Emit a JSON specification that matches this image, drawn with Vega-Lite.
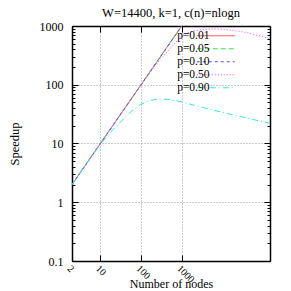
{
  "$schema": "https://vega.github.io/schema/vega-lite/v6.json",
  "width": 198,
  "height": 235,
  "autosize": {"type": "none"},
  "padding": {"left": 72, "top": 26, "right": 21, "bottom": 30},
  "background": "white",
  "title": {"text": "W=14400, k=1, c(n)=nlogn", "font": "Liberation Serif", "fontSize": 12.5, "fontWeight": "normal", "color": "black", "anchor": "middle", "offset": -14},
  "data": {"values": [
    {"p": "p=0.01", "n": 2, "s": 2}, {"p": "p=0.01", "n": 10, "s": 10}, {"p": "p=0.01", "n": 100, "s": 100}, {"p": "p=0.01", "n": 1000, "s": 999}, {"p": "p=0.01", "n": 2000, "s": 1996},
    {"p": "p=0.05", "n": 2, "s": 2}, {"p": "p=0.05", "n": 10, "s": 10}, {"p": "p=0.05", "n": 100, "s": 99.9}, {"p": "p=0.05", "n": 1000, "s": 996}, {"p": "p=0.05", "n": 2000, "s": 1985},
    {"p": "p=0.10", "n": 2, "s": 2}, {"p": "p=0.10", "n": 10, "s": 10}, {"p": "p=0.10", "n": 100, "s": 99.7}, {"p": "p=0.10", "n": 1000, "s": 990}, {"p": "p=0.10", "n": 2000, "s": 1960},
    {"p": "p=0.50", "n": 2, "s": 2}, {"p": "p=0.50", "n": 10, "s": 10}, {"p": "p=0.50", "n": 30, "s": 29.9}, {"p": "p=0.50", "n": 50, "s": 49.7}, {"p": "p=0.50", "n": 100, "s": 98.5}, {"p": "p=0.50", "n": 200, "s": 190}, {"p": "p=0.50", "n": 300, "s": 272}, {"p": "p=0.50", "n": 500, "s": 400}, {"p": "p=0.50", "n": 700, "s": 520}, {"p": "p=0.50", "n": 1000, "s": 670}, {"p": "p=0.50", "n": 1450, "s": 770}, {"p": "p=0.50", "n": 2000, "s": 820}, {"p": "p=0.50", "n": 3000, "s": 860}, {"p": "p=0.50", "n": 4260, "s": 880}, {"p": "p=0.50", "n": 6000, "s": 890}, {"p": "p=0.50", "n": 8000, "s": 889}, {"p": "p=0.50", "n": 11000, "s": 875}, {"p": "p=0.50", "n": 15300, "s": 855}, {"p": "p=0.50", "n": 22000, "s": 828}, {"p": "p=0.50", "n": 30000, "s": 800}, {"p": "p=0.50", "n": 36000, "s": 782}, {"p": "p=0.50", "n": 47800, "s": 750}, {"p": "p=0.50", "n": 80000, "s": 688}, {"p": "p=0.50", "n": 150000, "s": 605},
    {"p": "p=0.90", "n": 2, "s": 2}, {"p": "p=0.90", "n": 5, "s": 4.95}, {"p": "p=0.90", "n": 10, "s": 9.7}, {"p": "p=0.90", "n": 15, "s": 13.5}, {"p": "p=0.90", "n": 20, "s": 17}, {"p": "p=0.90", "n": 30, "s": 22.5}, {"p": "p=0.90", "n": 45, "s": 30}, {"p": "p=0.90", "n": 60, "s": 36}, {"p": "p=0.90", "n": 80, "s": 42}, {"p": "p=0.90", "n": 100, "s": 46.5}, {"p": "p=0.90", "n": 150, "s": 53}, {"p": "p=0.90", "n": 200, "s": 55.5}, {"p": "p=0.90", "n": 300, "s": 57}, {"p": "p=0.90", "n": 450, "s": 56.5}, {"p": "p=0.90", "n": 700, "s": 54}, {"p": "p=0.90", "n": 1000, "s": 51}, {"p": "p=0.90", "n": 2000, "s": 45}, {"p": "p=0.90", "n": 5000, "s": 38.3}, {"p": "p=0.90", "n": 10000, "s": 34}, {"p": "p=0.90", "n": 20000, "s": 30.4}, {"p": "p=0.90", "n": 50000, "s": 26.2}, {"p": "p=0.90", "n": 100000, "s": 23.5}, {"p": "p=0.90", "n": 150000, "s": 22.2}
  ]},
  "layer": [
    {
      "mark": {"type": "line", "clip": true, "strokeWidth": 1},
      "encoding": {
        "x": {"field": "n", "type": "quantitative", "scale": {"type": "log", "domain": [2, 150000], "nice": false},
          "axis": {"orient": "bottom", "values": [2, 10, 100, 1000], "title": "Number of nodes", "titleFontSize": 12, "labelExpr": "toString(datum.value)", "labelAngle": 45, "labelAlign": "left", "labelBaseline": "top", "labelPadding": 8, "labelFontSize": 10, "tickSize": -6, "grid": true, "titlePadding": -5.5, "labelOverlap": false, "labelFlush": false}},
        "y": {"field": "s", "type": "quantitative", "scale": {"type": "log", "domain": [0.1, 1000], "nice": false},
          "axis": {"orient": "left", "values": [0.1, 0.2, 0.3, 0.4, 0.5, 0.6, 0.7, 0.8, 0.9, 1, 2, 3, 4, 5, 6, 7, 8, 9, 10, 20, 30, 40, 50, 60, 70, 80, 90, 100, 200, 300, 400, 500, 600, 700, 800, 900, 1000], "title": "Speedup", "titlePadding": 18, "labelExpr": "indexof([0.1, 1, 10, 100, 1000], datum.value) >= 0 ? toString(datum.value) : ''", "labelPadding": 15, "labelFontSize": 12, "tickSize": {"condition": {"test": "indexof([0.1, 1, 10, 100, 1000], datum.value) >= 0", "value": -6}, "value": -3}, "grid": true, "gridOpacity": {"condition": {"test": "indexof([0.1, 1, 10, 100, 1000], datum.value) >= 0", "value": 1}, "value": 0}, "labelOverlap": false, "labelFlush": false}},
        "color": {"field": "p", "type": "nominal",
          "scale": {"domain": ["p=0.01", "p=0.05", "p=0.10", "p=0.50", "p=0.90"], "range": ["#ff4a4a", "#3ee03e", "#5050ff", "#ff40ff", "#30e6e6"]},
          "legend": {"title": null, "orient": "none", "legendX": 104, "legendY": 4, "symbolType": "M-4.75,0H4.75", "symbolSize": 64, "symbolStrokeWidth": 1, "symbolOffset": 34, "labelOffset": -12, "labelAlign": "right", "labelFontSize": 11.5, "labelColor": "black", "rowPadding": 0, "padding": 0}},
        "strokeDash": {"field": "p", "type": "nominal",
          "scale": {"domain": ["p=0.01", "p=0.05", "p=0.10", "p=0.50", "p=0.90"], "range": [[1, 0], [5, 3], [3, 3], [1, 2], [6, 3, 1, 3]]},
          "legend": {"title": null, "orient": "none", "legendX": 104, "legendY": 4, "symbolType": "M-4.75,0H4.75", "symbolSize": 64, "symbolStrokeWidth": 1, "symbolOffset": 34, "labelOffset": -12, "labelAlign": "right", "labelFontSize": 11.5, "labelColor": "black", "rowPadding": 0, "padding": 0}}
      }
    },
    {
      "mark": {"type": "point", "opacity": 0},
      "encoding": {
        "x": {"field": "n", "type": "quantitative", "scale": {"type": "log", "domain": [2, 150000], "nice": false},
          "axis": {"orient": "top", "values": [2, 10, 100, 1000], "labels": false, "title": null, "grid": false, "tickSize": -6}},
        "y": {"field": "s", "type": "quantitative", "scale": {"type": "log", "domain": [0.1, 1000], "nice": false},
          "axis": {"orient": "right", "values": [0.1, 0.2, 0.3, 0.4, 0.5, 0.6, 0.7, 0.8, 0.9, 1, 2, 3, 4, 5, 6, 7, 8, 9, 10, 20, 30, 40, 50, 60, 70, 80, 90, 100, 200, 300, 400, 500, 600, 700, 800, 900, 1000], "labels": false, "title": null, "grid": false, "tickSize": {"condition": {"test": "indexof([0.1, 1, 10, 100, 1000], datum.value) >= 0", "value": -6}, "value": -3}}}
      }
    }
  ],
  "resolve": {"axis": {"x": "independent", "y": "independent"}},
  "config": {
    "font": "Liberation Serif",
    "view": {"stroke": null},
    "axis": {"domainColor": "black", "domainWidth": 1.5, "tickColor": "black", "tickWidth": 1, "labelColor": "black", "labelFont": "Liberation Serif", "titleFont": "Liberation Serif", "titleFontSize": 12.5, "titleFontWeight": "normal", "titleColor": "black", "gridColor": "#999999", "gridDash": [1, 2], "gridWidth": 1},
    "legend": {"labelFont": "Liberation Serif", "labelLimit": 0}
  }
}
